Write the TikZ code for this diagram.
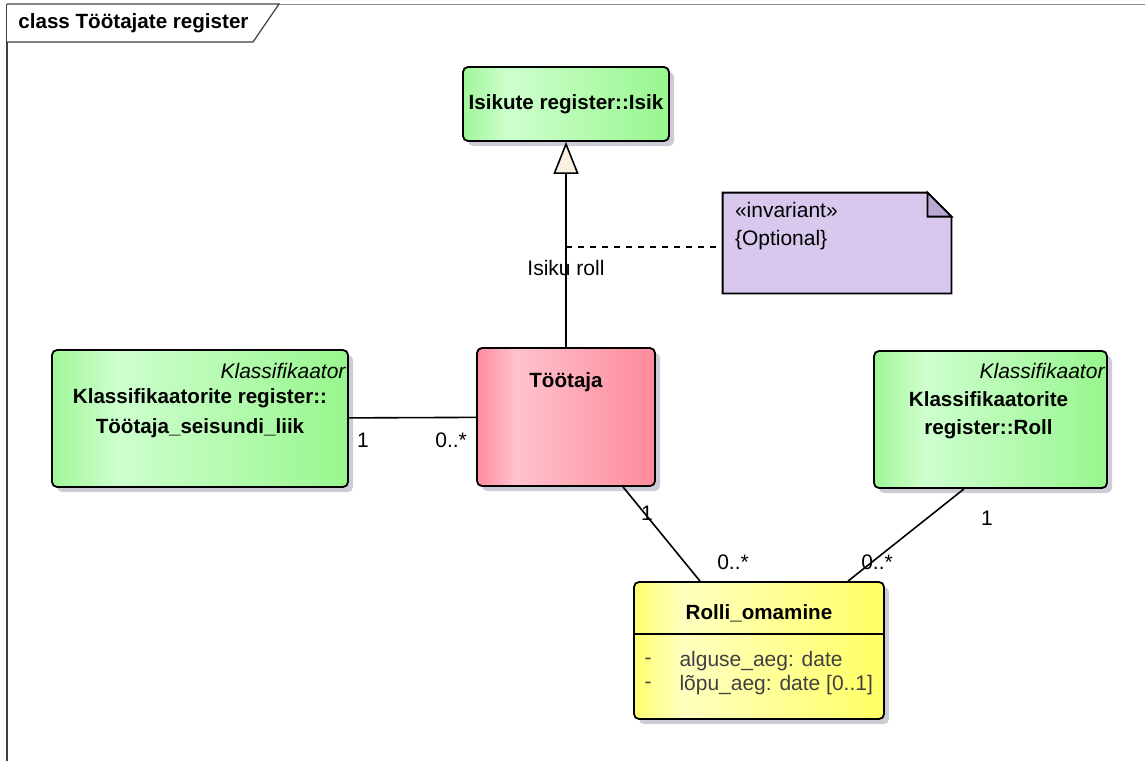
\documentclass[tikz,border=0pt]{standalone}
\usepackage{fontspec}
\setmainfont{Liberation Sans}
\usetikzlibrary{arrows.meta, positioning, shadows, calc}

\definecolor{grnA}{RGB}{160,246,152}
\definecolor{grnB}{RGB}{206,255,206}
\definecolor{grnC}{RGB}{152,246,142}
\definecolor{pnkA}{RGB}{255,140,158}
\definecolor{pnkB}{RGB}{255,194,206}
\definecolor{pnkC}{RGB}{255,138,154}
\definecolor{ylwA}{RGB}{255,255,112}
\definecolor{ylwB}{RGB}{255,255,192}
\definecolor{ylwC}{RGB}{255,255,100}
\definecolor{shadowgray}{RGB}{204,204,214}
\definecolor{notefill}{RGB}{216,200,238}
\definecolor{notefold}{RGB}{186,170,210}
\definecolor{tipfill}{RGB}{250,240,224}
\definecolor{attrgray}{RGB}{64,64,64}

\pgfdeclarehorizontalshading{greenbox}{100bp}{color(0bp)=(grnA); color(25bp)=(grnA); color(36bp)=(grnB); color(75bp)=(grnC); color(100bp)=(grnC)}
\pgfdeclarehorizontalshading{pinkbox}{100bp}{color(0bp)=(pnkA); color(25bp)=(pnkA); color(36bp)=(pnkB); color(75bp)=(pnkC); color(100bp)=(pnkC)}
\pgfdeclarehorizontalshading{yellowbox}{100bp}{color(0bp)=(ylwA); color(25bp)=(ylwA); color(35bp)=(ylwB); color(75bp)=(ylwC); color(100bp)=(ylwC)}

\newcommand{\umlfont}{\fontsize{10.3}{15}\selectfont}
\newcommand{\reafont}{\fontsize{10.5}{12}\selectfont}

\tikzset{
    klasse/.style={draw=black, line width=0.9pt, rounded corners=2.5pt, inner sep=0pt,
        drop shadow={shadow xshift=2.5pt, shadow yshift=-2.5pt, fill=shadowgray, opacity=1}},
    nimi/.style={font=\umlfont\bfseries, align=center, inner sep=0pt},
    stereo/.style={font=\reafont\itshape, inner sep=0pt},
    mult/.style={font=\reafont, inner sep=0pt},
    assoc/.style={line width=0.8pt},
    gen/.style={line width=0.8pt, -{Triangle[length=16pt, width=12.5pt, fill=tipfill]}},
    notebox/.style={draw=black, line width=0.9pt, fill=notefill, line join=miter}
}

\begin{document}
\begin{tikzpicture}[x=0.5pt, y=-0.5pt]
    \useasboundingbox (0,0) rectangle (1145,761);

    % frame and title tab
    \draw[black!45, line width=0.5pt] (7,4) -- (1145,4);
    \draw[black!75, line width=0.6pt] (7,4) -- (7,761);
    \draw[black!75, line width=0.6pt, fill=white] (7,4) -- (279,4) -- (253,42) -- (7,42);
    \node[anchor=west, inner sep=0pt, font=\fontsize{10.3}{12}\selectfont\bfseries] (titel) at (18,23) {class Töötajate register};

    % classes
    \node[klasse, shading=greenbox, minimum width=103pt, minimum height=37pt, font=\umlfont\bfseries] (isik) at (566,104) {Isikute register::Isik};

    \node[klasse, shading=pinkbox, minimum width=89pt, minimum height=69pt] (tootaja) at (566,417) {};
    \node[nimi] (tootajanimi) at ([yshift=-17.5pt]tootaja.north) {Töötaja};

    \node[klasse, shading=greenbox, minimum width=148pt, minimum height=68.5pt] (seisund) at (200,418.5) {};
    \node[stereo, anchor=east] (seisundst) at ([xshift=-1.5pt, yshift=-11pt]seisund.north east) {Klassifikaator};
    \node[nimi] (seisundnimi) at ([yshift=-32pt]seisund.north) {Klassifikaatorite register::\\Töötaja\_seisundi\_liik};

    \node[klasse, shading=greenbox, minimum width=116.5pt, minimum height=68.5pt] (roll) at (990.5,419.5) {};
    \node[stereo, anchor=east] (rollst) at ([xshift=-1.5pt, yshift=-10.5pt]roll.north east) {Klassifikaator};
    \node[nimi, font=\fontsize{10.3}{14}\selectfont\bfseries] (rollnimi) at ([xshift=-1pt, yshift=-32.5pt]roll.north) {Klassifikaatorite\\register::Roll};

    \node[klasse, shading=yellowbox, minimum width=125pt, minimum height=68.5pt] (rolli) at (759,650.5) {};
    \node[nimi] (rollinimi) at ([yshift=-16pt]rolli.north) {Rolli\_omamine};
    \draw[line width=0.9pt] ([yshift=-26.5pt]rolli.north west) -- ([yshift=-26.5pt]rolli.north east);
    \node[anchor=west, align=left, inner sep=0pt, text=attrgray, font=\reafont] (kriips) at ([xshift=5.5pt, yshift=-46pt]rolli.north west) {-\\-};
    \node[anchor=west, align=left, inner sep=0pt, text=attrgray, font=\reafont] (atribuudid) at ([xshift=23pt, yshift=-46pt]rolli.north west) {alguse\_aeg: date\\lõpu\_aeg: date [0..1]};

    % note
    \path node[minimum width=114pt, minimum height=50pt, inner sep=0pt] (note) at (837,243) {};
    \filldraw[notebox] (note.south west) -- (note.north west) -- ([xshift=-12pt]note.north east)
        -- ([yshift=-12pt]note.north east) -- (note.south east) -- cycle;
    \filldraw[notebox, fill=notefold] ([xshift=-12pt]note.north east) -- ([xshift=-12pt, yshift=-12pt]note.north east)
        -- ([yshift=-12pt]note.north east) -- cycle;
    \node[anchor=north west, align=left, inner sep=0pt, font=\fontsize{10.5}{14}\selectfont] (notetekst) at ([xshift=6pt, yshift=-4.5pt]note.north west) {«invariant»\\\{Optional\}};

    % generalization and note link
    \draw[gen] (tootaja) -- (isik)
        node[pos=0.385, mult] (isikuroll) {Isiku roll}
        coordinate[pos=0.488] (genpunkt);
    \draw[line width=0.8pt, dash pattern=on 3pt off 3pt] (genpunkt) -- (genpunkt -| note.west);

    % associations
    \draw[assoc] (seisund) -- (tootaja)
        node[mult, pos=0, xshift=7pt, yshift=-11pt] (m1) {1}
        node[mult, pos=1, xshift=-12.5pt, yshift=-11.5pt] (m2) {0..*};
    \draw[assoc] ([xshift=28.5pt]tootaja.south) -- ([xshift=-29.5pt]rolli.north)
        node[mult, pos=0, xshift=12pt, yshift=-13pt] (m3) {1}
        node[mult, pos=1, xshift=16.5pt, yshift=9.5pt] (m4) {0..*};
    \draw[assoc] ([xshift=-13.25pt]roll.south) -- ([xshift=44.5pt]rolli.north)
        node[mult, pos=0, xshift=11.5pt, yshift=-14.5pt] (m5) {1}
        node[mult, pos=1, xshift=14.5pt, yshift=9.5pt] (m6) {0..*};
\end{tikzpicture}
\end{document}
